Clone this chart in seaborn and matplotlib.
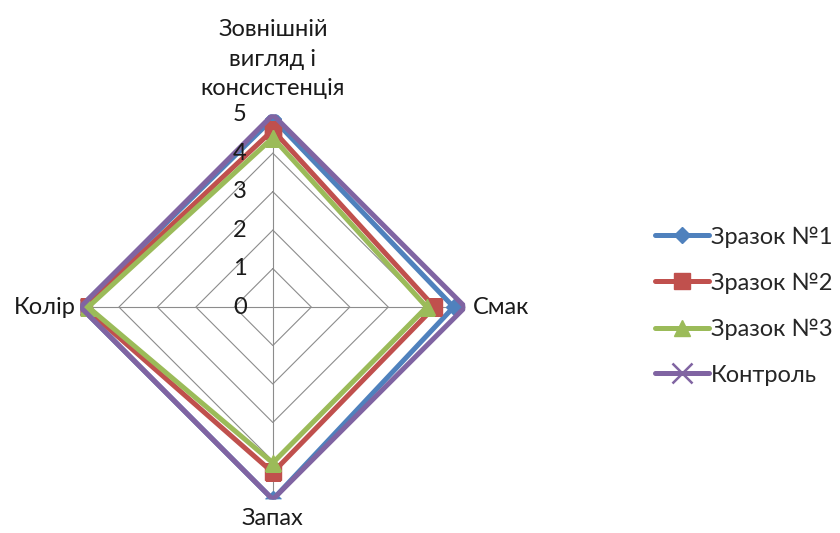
import numpy as np
import pandas as pd
import matplotlib
matplotlib.use('Agg')
import matplotlib.pyplot as plt
import matplotlib.transforms as mtransforms
import seaborn as sns

# categories clockwise from top
categories = ['Зовнішній\nвигляд і\nконсистенція', 'Смак', 'Запах', 'Колір']
series_names = ['Зразок №1', 'Зразок №2', 'Зразок №3', 'Контроль']
sample1 = [4.9, 4.7, 5.0, 5.0]
sample2 = [4.6, 4.2, 4.3, 4.9]
sample3 = [4.4, 4.0, 4.05, 4.8]
control = [5.0, 5.0, 5.0, 5.0]
r_ticks = [0, 1, 2, 3, 4, 5]

colors = ['#4F81BD', '#C0504D', '#9BBB59', '#8064A2']
markers = ['D', 's', '^', 'x']
msizes = [8, 11, 11, 15]

sns.set_theme(style='white')
plt.rcParams['font.family'] = ['Lato', 'DejaVu Sans']

fig = plt.figure(figsize=(8.4, 5.33), dpi=100)
ax = fig.add_axes([0.0958, 0.0629, 0.458, 0.722], projection='polar')
ax.set_theta_zero_location('N')
ax.set_theta_direction(-1)

angles = np.arange(len(categories)) * 2 * np.pi / len(categories)
closed = np.append(angles, 2 * np.pi)

# straight grid (diamonds) and spokes
for r in r_ticks[1:]:
    ax.plot(closed, [r] * len(closed), color='#8C8C8C', lw=0.8, zorder=1)
for a in angles:
    ax.plot([a, a], [0, r_ticks[-1]], color='#8C8C8C', lw=0.8, zorder=1)

all_vals = [sample1, sample2, sample3, control]
rows = []
for name, vals in zip(series_names, all_vals):
    for a, v in zip(closed, vals + vals[:1]):
        rows.append({'series': name, 'theta': a, 'value': v})
df = pd.DataFrame(rows)

for name, c, m, ms in zip(series_names, colors, markers, msizes):
    sub = df[df['series'] == name]
    sns.lineplot(data=sub, x='theta', y='value', sort=False, ax=ax, color=c,
                 lw=3.6, marker=m, markersize=ms, markeredgecolor=c,
                 markeredgewidth=1.8 if m == 'x' else 1, label=name,
                 zorder=3)

ax.set_ylim(0, 5)
ax.set_xticks([])
ax.set_yticks([])
ax.grid(False)
ax.spines['polar'].set_visible(False)
ax.set_xlabel('')
ax.set_ylabel('')

fs = 17
txt = '#1a1a1a'

# radial labels left of the vertical spoke
off = mtransforms.offset_copy(ax.transData, fig=fig, x=-33, y=0, units='dots')
for r in r_ticks:
    ax.text(0, r, str(r), transform=off, ha='center', va='center',
            fontsize=fs, color=txt)

ax.text(angles[0], 5.4, categories[0], ha='center', va='bottom', fontsize=fs,
        linespacing=1.5, color=txt)
ax.text(angles[1], 5.2, categories[1], ha='left', va='center', fontsize=fs, color=txt)
ax.text(angles[2], 5.22, categories[2], ha='center', va='top', fontsize=fs, color=txt)
ax.text(angles[3], 5.12, categories[3], ha='right', va='center', fontsize=fs, color=txt)

handles, labels = ax.get_legend_handles_labels()
ax.legend_.remove()
fig.legend(handles, labels, loc='center left', bbox_to_anchor=(0.769, 0.426),
           frameon=False, fontsize=fs, labelspacing=1.05, handlelength=2.25,
           handletextpad=0.1, borderaxespad=0)

fig.savefig('out.png', dpi=100)
